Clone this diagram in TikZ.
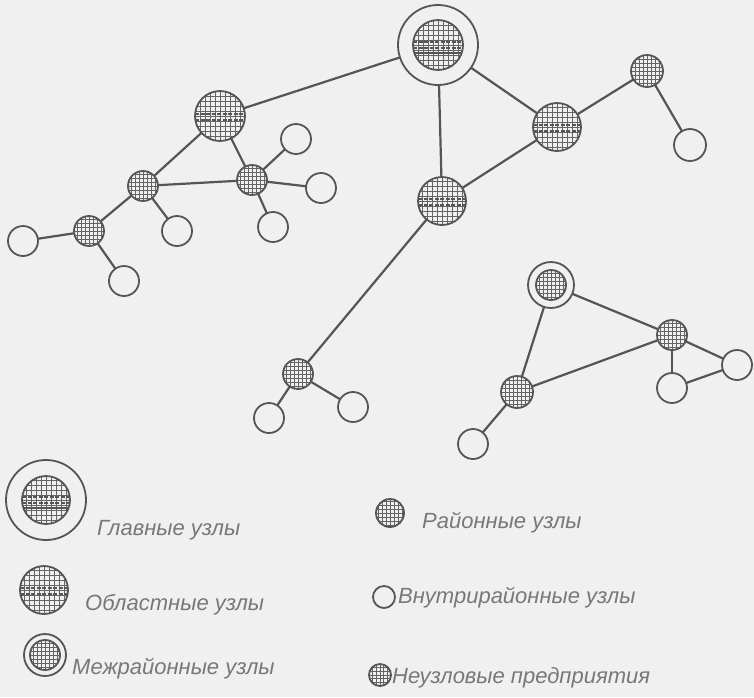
\documentclass[tikz,border=0pt]{standalone}
\usepackage{fontspec}
\setmainfont{Liberation Sans}
\definecolor{bgc}{RGB}{240,240,240}
\definecolor{lc}{RGB}{85,85,85}
\definecolor{hc}{RGB}{100,100,100}
\definecolor{txtc}{RGB}{120,120,120}
\newcommand{\gridfill}[2]{%
  \foreach \k in {-9,...,9}{%
    \draw[hc, line width=0.8pt] (\k*#2,-#1) -- (\k*#2,#1);
    \draw[hc, line width=0.8pt] (-#1,\k*#2) -- (#1,\k*#2);
  }}
\tikzset{
  base/.style={circle, draw=lc, line width=1.8pt, inner sep=0pt, outer sep=0pt},
  openn/.style={base, minimum size=2*#1pt},
  rayonn/.style={base, minimum size=2*#1pt,
    path picture={\begin{scope}[shift={(path picture bounding box.center)}]\gridfill{#1}{4}\end{scope}}},
  neuzn/.style={base, minimum size=2*#1pt,
    path picture={\begin{scope}[shift={(path picture bounding box.center)}]\gridfill{#1}{3.6}\end{scope}}},
  oblastn/.style={base, minimum size=2*#1pt,
    path picture={\begin{scope}[shift={(path picture bounding box.center)}]\gridfill{#1}{5}
      \draw[lc, line width=1.6pt, dash pattern=on 4pt off 1.5pt] (-#1,-2) -- (#1,-2);
      \draw[lc, line width=1.6pt, dash pattern=on 4pt off 1.5pt] (-#1,4) -- (#1,4);
    \end{scope}}},
  glavn/.style 2 args={base, minimum size=2*#1pt,
    path picture={\begin{scope}[shift={(path picture bounding box.center)}]
      \begin{scope}\clip (0,0) circle (#2pt); \gridfill{#2}{5}
      \draw[lc, line width=1.6pt, dash pattern=on 4pt off 1.5pt] (-#2,-3) -- (#2,-3);
      \draw[lc, line width=1.6pt, dash pattern=on 4pt off 1.5pt] (-#2,3) -- (#2,3);
      \draw[lc, line width=1.2pt] (-#2,8) -- (#2,8);
      \end{scope}
      \draw[lc, line width=1.8pt] (0,0) circle (#2pt);
    \end{scope}}},
  mezhn/.style 2 args={base, minimum size=2*#1pt,
    path picture={\begin{scope}[shift={(path picture bounding box.center)}]
      \begin{scope}\clip (0,0) circle (#2pt); \gridfill{#2}{4}\end{scope}
      \draw[lc, line width=1.8pt] (0,0) circle (#2pt);
    \end{scope}}},
  link/.style={draw=lc, line width=2.2pt},
  lab/.style={anchor=west, inner sep=0pt, text=txtc, font=\itshape\fontsize{22}{24}\selectfont},
}
\begin{document}
\begin{tikzpicture}[x=1pt, y=-1pt]
\fill[bgc] (0,0) rectangle (754,697);
\useasboundingbox (0,0) rectangle (754,697);
% main network
\node[glavn={40}{25}] (G) at (438,45) {};
\node[oblastn=25] (O1) at (220,116) {};
\node[oblastn=24] (O2) at (557,127) {};
\node[oblastn=24] (O3) at (442,201) {};
\node[rayonn=15] (R1) at (143,186) {};
\node[rayonn=15] (R2) at (252,180) {};
\node[rayonn=15] (R3) at (89,231) {};
\node[rayonn=16] (R4) at (647,71) {};
\node[rayonn=15] (R5) at (298,374) {};
\node[rayonn=16] (R6) at (517,392) {};
\node[rayonn=15] (R7) at (672,335) {};
\node[mezhn={23}{15}] (M) at (551,285) {};
\node[openn=15] (c1) at (296,139) {};
\node[openn=15] (c2) at (321,188) {};
\node[openn=15] (c3) at (273,227) {};
\node[openn=15] (c4) at (177,231) {};
\node[openn=15] (c5) at (23,241) {};
\node[openn=15] (c6) at (124,281) {};
\node[openn=16] (c7) at (690,145) {};
\node[openn=15] (c8) at (269,418) {};
\node[openn=15] (c9) at (353,407) {};
\node[openn=15] (c10) at (473,444) {};
\node[openn=15] (c11) at (737,365) {};
\node[openn=15] (c12) at (672,388) {};
\foreach \a/\b in {G/O1, G/O3, G/O2, O2/R4, R4/c7, O3/O2, O1/R1, O1/R2, R1/R2, R2/c1, R2/c2, R2/c3,
  R1/R3, R1/c4, R3/c5, R3/c6, O3/R5, R5/c8, R5/c9, M/R7, M/R6, R6/R7, R7/c11, R7/c12, c12/c11, R6/c10}
  \draw[link] (\a) -- (\b);
% legend
\node[glavn={40}{24}] (LG) at (46,500) {};
\node[lab] (tG) at (97,530) {Главные узлы};
\node[rayonn=14] (LR) at (390,513) {};
\node[lab] (tR) at (422,523) {Районные узлы};
\node[oblastn=24] (LO) at (44,590) {};
\node[lab] (tO) at (85,605) {Областные узлы};
\node[openn=11] (LV) at (384,597) {};
\node[lab] (tV) at (398,598) {Внутрирайонные узлы};
\node[mezhn={21}{15}] (LM) at (45,655) {};
\node[lab] (tM) at (72,669) {Межрайонные узлы};
\node[neuzn=11] (LN) at (380,675) {};
\node[lab] (tN) at (392,678) {Неузловые предприятия};
\end{tikzpicture}
\end{document}
